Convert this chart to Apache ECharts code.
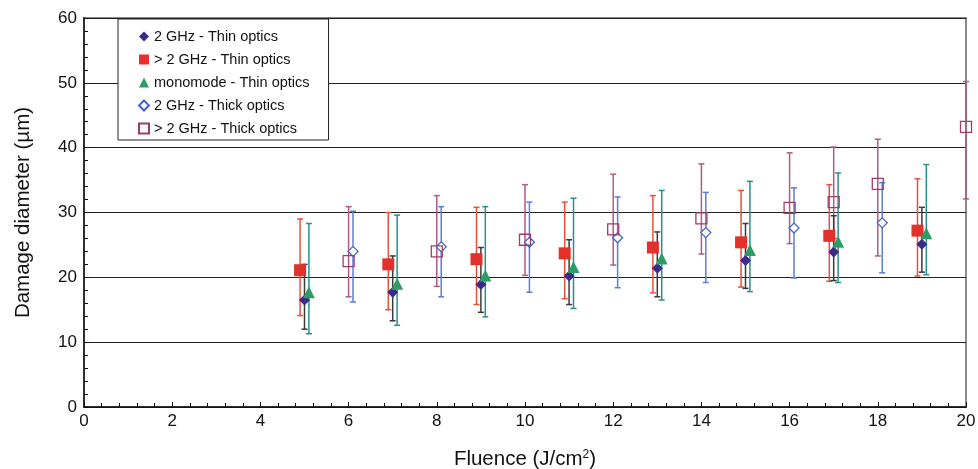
<!DOCTYPE html>
<html>
<head>
<meta charset="utf-8">
<script src="https://cdn.jsdelivr.net/npm/echarts@6/dist/echarts.min.js"></script>
<style>
  html, body { margin: 0; padding: 0; background: #fff; }
  #chart { width: 978px; height: 469px; }
</style>
</head>
<body>
<div id="chart"></div>
<script>
// Damage diameter vs. fluence, with min/max error bars per configuration.

// 2 GHz - Thin optics
const thin2X    = [5.0, 7.0, 9.0, 11.0, 13.0, 15.0, 17.0, 19.0];
const thin2Y    = [16.5, 17.7, 18.9, 20.2, 21.4, 22.6, 23.9, 25.1];
const thin2Lo   = [12.0, 13.3, 14.6, 15.8, 17.0, 18.3, 19.5, 20.8];
const thin2Hi   = [22.0, 23.3, 24.6, 25.8, 27.0, 28.3, 29.5, 30.8];

// > 2 GHz - Thin optics
const thinGtX   = [4.9, 6.9, 8.9, 10.9, 12.9, 14.9, 16.9, 18.9];
const thinGtY   = [21.1, 22.0, 22.8, 23.7, 24.6, 25.4, 26.4, 27.2];
const thinGtLo  = [14.1, 15.0, 15.8, 16.7, 17.6, 18.5, 19.4, 20.2];
const thinGtHi  = [29.0, 30.0, 30.8, 31.6, 32.6, 33.4, 34.3, 35.2];

// monomode - Thin optics
const monoX     = [5.1, 7.1, 9.1, 11.1, 13.1, 15.1, 17.1, 19.1];
const monoY     = [17.7, 19.0, 20.3, 21.6, 22.9, 24.2, 25.5, 26.8];
const monoLo    = [11.3, 12.6, 13.9, 15.2, 16.5, 17.8, 19.2, 20.4];
const monoHi    = [28.3, 29.6, 30.9, 32.2, 33.4, 34.8, 36.1, 37.4];

// 2 GHz - Thick optics
const thick2X   = [6.1, 8.1, 10.1, 12.1, 14.1, 16.1, 18.1];
const thick2Y   = [24.0, 24.7, 25.4, 26.1, 26.9, 27.6, 28.4];
const thick2Lo  = [16.2, 17.0, 17.7, 18.4, 19.2, 19.9, 20.7];
const thick2Hi  = [30.2, 30.9, 31.6, 32.4, 33.1, 33.8, 34.6];

// > 2 GHz - Thick optics
const thickGtX  = [6.0, 8.0, 10.0, 12.0, 14.0, 16.0, 17.0, 18.0, 20.0];
const thickGtY  = [22.5, 24.0, 25.8, 27.4, 29.1, 30.7, 31.6, 34.4, 43.2];
const thickGtLo = [17.0, 18.6, 20.3, 21.9, 23.6, 25.2, 26.0, 23.3, 32.1];
const thickGtHi = [30.9, 32.6, 34.3, 35.9, 37.5, 39.2, 40.1, 41.3, 50.2];

const seriesNames = [
  '2 GHz - Thin optics',
  '> 2 GHz - Thin optics',
  'monomode - Thin optics',
  '2 GHz - Thick optics',
  '> 2 GHz - Thick optics'
];

const FONT = 'Liberation Sans, Arial, Helvetica, sans-serif';

function pairs(xs, ys) { return xs.map((x, i) => [x, ys[i]]); }

// Vertical min/max bar with short caps at both ends.
function errorBars(xs, lo, hi, color, width) {
  return {
    type: 'custom',
    silent: true,
    z: 2,
    clip: false,
    data: xs.map((x, i) => [x, lo[i], hi[i]]),
    encode: { x: 0, y: [1, 2] },
    renderItem: function (params, api) {
      const x = api.value(0);
      const a = api.coord([x, api.value(1)]);
      const b = api.coord([x, api.value(2)]);
      const hw = 3;
      const st = { stroke: color, lineWidth: width };
      return {
        type: 'group',
        children: [
          { type: 'line', shape: { x1: a[0], y1: a[1], x2: b[0], y2: b[1] }, style: st },
          { type: 'line', shape: { x1: a[0] - hw, y1: a[1], x2: a[0] + hw, y2: a[1] }, style: st },
          { type: 'line', shape: { x1: b[0] - hw, y1: b[1], x2: b[0] + hw, y2: b[1] }, style: st }
        ]
      };
    }
  };
}

const chart = echarts.init(document.getElementById('chart'), null, { renderer: 'canvas' });

chart.setOption({
  animation: false,
  backgroundColor: '#fff',
  textStyle: { fontFamily: FONT },
  grid: {
    left: 84, right: 12, top: 18, bottom: 62,
    outerBoundsMode: 'none',
    containLabel: false,
    show: true, borderColor: '#8a8a8a', borderWidth: 2, backgroundColor: 'transparent'
  },
  legend: {
    data: seriesNames,
    orient: 'vertical',
    left: 118, top: 19,
    padding: [10, 19, 4, 20],
    itemWidth: 10, itemHeight: 10, itemGap: 8,
    backgroundColor: '#fff',
    borderColor: '#222', borderWidth: 1,
    textStyle: { fontFamily: FONT, fontSize: 14.5, color: '#111' }
  },
  xAxis: {
    type: 'value', min: 0, max: 20, interval: 2,
    name: 'Fluence (J/cm{sup|2})',
    nameLocation: 'middle', nameGap: 42,
    nameTextStyle: {
      fontFamily: FONT, fontSize: 20.5, color: '#111',
      rich: { sup: { fontSize: 12, verticalAlign: 'top', padding: [0, 0, 9, 0], fontFamily: FONT, color: '#111' } }
    },
    axisLine: { lineStyle: { color: '#111', width: 1.5 } },
    axisTick: { inside: true, length: 5, lineStyle: { color: '#111' } },
    minorTick: { show: true, splitNumber: 5, length: 4, lineStyle: { color: '#111' } },
    axisLabel: { fontFamily: FONT, fontSize: 17, color: '#111', margin: 6 },
    splitLine: { show: false }
  },
  yAxis: {
    type: 'value', min: 0, max: 60, interval: 10,
    name: 'Damage diameter (\u00b5m)',
    nameLocation: 'middle', nameGap: 50,
    nameTextStyle: { fontFamily: FONT, fontSize: 20.5, color: '#111' },
    axisLine: { lineStyle: { color: '#111', width: 1.5 } },
    axisTick: { inside: true, length: 5, lineStyle: { color: '#111' } },
    minorTick: { show: true, splitNumber: 5, length: 4, lineStyle: { color: '#111' } },
    axisLabel: { fontFamily: FONT, fontSize: 17, color: '#111', margin: 7 },
    splitLine: { show: true, lineStyle: { color: '#222', width: 1.2 } }
  },
  series: [
    errorBars(thickGtX, thickGtLo, thickGtHi, '#b05a84', 1.5),
    errorBars(thick2X, thick2Lo, thick2Hi, '#5b7dd2', 1.5),
    errorBars(thinGtX, thinGtLo, thinGtHi, '#e6503f', 1.5),
    errorBars(thin2X, thin2Lo, thin2Hi, '#3a3a3a', 1.5),
    errorBars(monoX, monoLo, monoHi, '#23928e', 1.5),
    {
      name: seriesNames[0], type: 'scatter', z: 5,
      symbol: 'diamond', symbolSize: 11,
      itemStyle: { color: '#3b2a8c', opacity: 1 },
      data: pairs(thin2X, thin2Y)
    },
    {
      name: seriesNames[1], type: 'scatter', z: 5,
      symbol: 'rect', symbolSize: 12,
      itemStyle: { color: '#e2312a', opacity: 1 },
      data: pairs(thinGtX, thinGtY)
    },
    {
      name: seriesNames[2], type: 'scatter', z: 5,
      symbol: 'triangle', symbolSize: 12,
      itemStyle: { color: '#2e9c66', opacity: 1 },
      data: pairs(monoX, monoY)
    },
    {
      name: seriesNames[3], type: 'scatter', z: 5,
      symbol: 'diamond', symbolSize: 10,
      itemStyle: { color: '#fff', borderColor: '#3f68c8', borderWidth: 1.3, opacity: 1 },
      data: pairs(thick2X, thick2Y)
    },
    {
      name: seriesNames[4], type: 'scatter', z: 5,
      symbol: 'rect', symbolSize: 11,
      itemStyle: { color: 'rgba(255,255,255,0)', borderColor: '#9e3c6c', borderWidth: 1.3, opacity: 1 },
      data: pairs(thickGtX, thickGtY)
    }
  ]
});
</script>
</body>
</html>
